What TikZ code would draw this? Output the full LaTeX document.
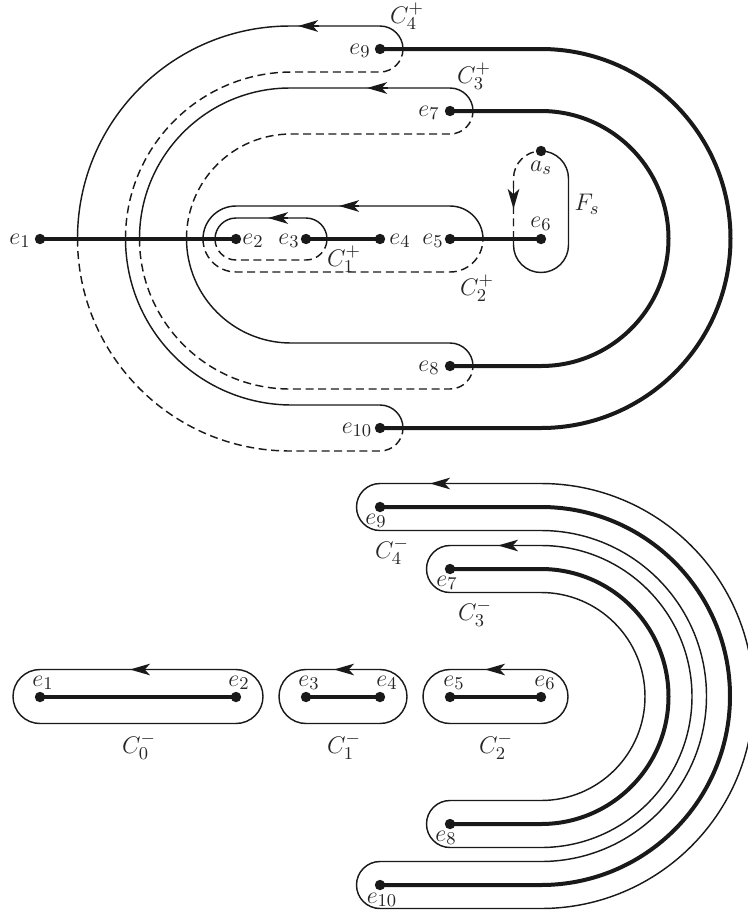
\documentclass[tikz,border=0pt]{standalone}
\usetikzlibrary{arrows.meta}
\tikzset{
  thin line/.style={line width=0.72pt,black!90},
  dash line/.style={line width=0.72pt,black!90,dash pattern=on 4pt off 2.3pt},
  thick line/.style={line width=2pt,black!90},
  dot/.style={circle,fill=black!90,inner sep=0pt,minimum size=5.2pt},
  lab/.style={inner sep=0pt,font=\fontsize{13}{15}\selectfont,black!85},
  dir tip/.style={-{Stealth[length=10pt,width=5.8pt,inset=2.6pt]},line width=0.72pt,black!90}
}
\begin{document}
\begin{tikzpicture}[x=0.5pt,y=-0.5pt]
\clip (0,0) rectangle (748,917);
% ===== upper figure: points
\node[dot] (e1) at (40,239) {};
\node[dot] (e2) at (236,239) {};
\node[dot] (e3) at (306,239) {};
\node[dot] (e4) at (380,239) {};
\node[dot] (e5) at (450,239) {};
\node[dot] (e6) at (541,239) {};
\node[dot] (as) at (541,151) {};
\node[dot] (e9) at (380,49) {};
\node[dot] (e7) at (450,111) {};
\node[dot] (e8) at (450,366) {};
\node[dot] (e10) at (380,428) {};
% thick edges
\draw[thick line] (e1.center) -- (e2.center);
\draw[thick line] (e3.center) -- (e4.center);
\draw[thick line] (e5.center) -- (e6.center);
\draw[thick line] (e9.center) -- (541,49) arc (-90:90:189.5) -- (e10.center);
\draw[thick line] (e7.center) -- (541,111) arc (-90:90:127.5) -- (e8.center);
% C4+
\draw[thin line] (403,49) arc (0:-90:23) -- (290,26) arc (-90:-180:212.5);
\draw[dash line] (77.5,238.5) arc (180:90:212.5) -- (380,451) arc (90:0:23);
\draw[thin line] (403,428) arc (0:-90:23) -- (292,405) arc (90:180:166.5);
\draw[dash line] (125.5,238.5) arc (180:270:166.5) -- (380,72) arc (90:0:23);
% C3+
\draw[thin line] (473,111) arc (0:-90:23) -- (290,88) arc (-90:-180:150.5);
\draw[dash line] (139.5,238.5) arc (180:90:150.5) -- (450,389) arc (90:0:23);
\draw[thin line] (473,366) arc (0:-90:23) -- (291,343) arc (90:180:104.5);
\draw[dash line] (186.5,238.5) arc (180:270:104.5) -- (450,134) arc (90:0:23);
% C2+
\draw[thin line] (483,239) arc (0:-90:33) -- (236,206) arc (-90:-180:33);
\draw[dash line] (203,239) arc (180:90:33) -- (450,272) arc (90:0:33);
% C1+
\draw[thin line] (327,239) arc (0:-90:21) -- (236,218) arc (-90:-180:21);
\draw[dash line] (215,239) arc (180:90:21) -- (306,260) arc (90:0:21);
% Fs
\draw[thin line] (as.center) arc (-90:0:27.5) -- (568.5,245) arc (0:180:27.5) -- (513.5,239);
\draw[dash line] (513.5,239) -- (513.5,178.5) arc (180:270:27.5);
% arrows
\coordinate (t4) at (319,26); \coordinate (h4) at (298,26);
\coordinate (t3) at (388,88); \coordinate (h3) at (367,88);
\coordinate (t2) at (359,206); \coordinate (h2) at (339,206);
\coordinate (t1) at (288,218); \coordinate (h1) at (268,218);
\coordinate (tf) at (513.5,188); \coordinate (hf) at (513.5,209);
\draw[dir tip] (t4) -- (h4);
\draw[dir tip] (t3) -- (h3);
\draw[dir tip] (t2) -- (h2);
\draw[dir tip] (t1) -- (h1);
\draw[dir tip] (tf) -- (hf);
% labels
\node[lab] (l1) at (20,241) {$e_1$};
\node[lab] (l2) at (253,241) {$e_2$};
\node[lab] (l3) at (289,241) {$e_3$};
\node[lab] (l4) at (400,241) {$e_4$};
\node[lab] (l5) at (433,241) {$e_5$};
\node[lab] (l6) at (541,224) {$e_6$};
\node[lab] (l7) at (429,113) {$e_7$};
\node[lab] (l8) at (429,368) {$e_8$};
\node[lab] (l9) at (360,51) {$e_9$};
\node[lab] (l10) at (357,430) {$e_{10}$};
\node[lab] (las) at (541,168) {$a_s$};
\node[lab] (lf) at (587,204) {$F_s$};
\node[lab] (c4p) at (407,16) {$C_4^+$};
\node[lab] (c3p) at (474,76) {$C_3^+$};
\node[lab] (c2p) at (477,288) {$C_2^+$};
\node[lab] (c1p) at (344,259) {$C_1^+$};
% ===== lower figure: points
\node[dot] (f1) at (40,697) {};
\node[dot] (f2) at (236,697) {};
\node[dot] (f3) at (306,697) {};
\node[dot] (f4) at (380,697) {};
\node[dot] (f5) at (450,697) {};
\node[dot] (f6) at (541,697) {};
\node[dot] (f9) at (380,507) {};
\node[dot] (f7) at (450,569) {};
\node[dot] (f8) at (450,824) {};
\node[dot] (f10) at (380,885) {};
\draw[thick line] (f1.center) -- (f2.center);
\draw[thick line] (f3.center) -- (f4.center);
\draw[thick line] (f5.center) -- (f6.center);
\draw[thick line] (f9.center) -- (541,507) arc (-90:90:189) -- (f10.center);
\draw[thick line] (f7.center) -- (541,569) arc (-90:90:127.5) -- (f8.center);
% C0-, C1-, C2-
\draw[thin line] (40,669.5) -- (236,669.5) arc (-90:90:27) -- (40,723.5) arc (90:270:27) -- cycle;
\draw[thin line] (306,669.5) -- (380,669.5) arc (-90:90:27) -- (306,723.5) arc (90:270:27) -- cycle;
\draw[thin line] (450,669.5) -- (541,669.5) arc (-90:90:27) -- (450,723.5) arc (90:270:27) -- cycle;
% C4-
\draw[thin line] (380,483.5) -- (541,483.5) arc (-90:90:212.5) -- (380,908.5) arc (90:270:23.5) -- (541,861.5) arc (90:-90:165.5) -- (380,530.5) arc (90:270:23.5) -- cycle;
% C3-
\draw[thin line] (450,545.5) -- (541,545.5) arc (-90:90:151) -- (450,847.5) arc (90:270:23.5) -- (541,800.5) arc (90:-90:104) -- (450,592.5) arc (90:270:23.5) -- cycle;
% arrows
\coordinate (u0) at (150,669.5); \coordinate (v0) at (130,669.5);
\coordinate (u1) at (354,669.5); \coordinate (v1) at (334,669.5);
\coordinate (u2) at (505,669.5); \coordinate (v2) at (485,669.5);
\coordinate (u4) at (450,483.5); \coordinate (v4) at (430,483.5);
\coordinate (u3) at (518,545.5); \coordinate (v3) at (498,545.5);
\draw[dir tip] (u0) -- (v0);
\draw[dir tip] (u1) -- (v1);
\draw[dir tip] (u2) -- (v2);
\draw[dir tip] (u4) -- (v4);
\draw[dir tip] (u3) -- (v3);
% labels
\node[lab] (m1) at (43,683) {$e_1$};
\node[lab] (m2) at (239,683) {$e_2$};
\node[lab] (m3) at (309,683) {$e_3$};
\node[lab] (m4) at (387,683) {$e_4$};
\node[lab] (m5) at (454,683) {$e_5$};
\node[lab] (m6) at (545,683) {$e_6$};
\node[lab] (m9) at (376,521) {$e_9$};
\node[lab] (m7) at (447,583) {$e_7$};
\node[lab] (m8) at (446,838) {$e_8$};
\node[lab] (m10) at (382,900) {$e_{10}$};
\node[lab] (c0m) at (139,746) {$C_0^-$};
\node[lab] (c1m) at (344,746) {$C_1^-$};
\node[lab] (c2m) at (496,746) {$C_2^-$};
\node[lab] (c3m) at (475,613) {$C_3^-$};
\node[lab] (c4m) at (392,551) {$C_4^-$};
\end{tikzpicture}
\end{document}
